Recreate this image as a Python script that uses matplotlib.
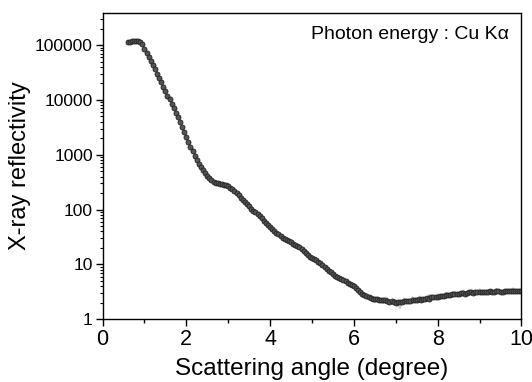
import matplotlib
matplotlib.use("Agg")
import matplotlib.pyplot as plt
import numpy as np
from matplotlib.ticker import LogLocator, MultipleLocator, NullFormatter

plt.rcParams['font.family'] = ['Liberation Sans', 'DejaVu Sans']

# scan grid (degrees), 0.05 step as measured
angle = np.round(np.arange(0.60, 10.001, 0.05), 2)

# log10 of reflectivity, one value per scan step
log_refl = [
    5.05, 5.06, 5.07, 5.07, 5.08, 5.08, 5.06, 5.01, 4.93, 4.86,   # 0.60-1.05
    4.78, 4.71, 4.63, 4.56, 4.48, 4.40, 4.32, 4.24, 4.16, 4.08,   # 1.10-1.55
    4.01, 3.93, 3.85, 3.76, 3.68, 3.59, 3.50, 3.42, 3.33, 3.24,   # 1.60-2.05
    3.15, 3.06, 2.98, 2.91, 2.84, 2.78, 2.72, 2.66, 2.61, 2.57,   # 2.10-2.55
    2.54, 2.51, 2.49, 2.48, 2.47, 2.46, 2.45, 2.44, 2.43, 2.40,   # 2.60-3.05
    2.37, 2.34, 2.30, 2.26, 2.22, 2.18, 2.14, 2.10, 2.06, 2.02,   # 3.10-3.55
    1.98, 1.95, 1.92, 1.88, 1.84, 1.80, 1.76, 1.72, 1.68, 1.64,   # 3.60-4.05
    1.61, 1.58, 1.55, 1.52, 1.49, 1.47, 1.45, 1.43, 1.41, 1.38,   # 4.10-4.55
    1.36, 1.34, 1.31, 1.28, 1.25, 1.21, 1.17, 1.14, 1.12, 1.10,   # 4.60-5.05
    1.08, 1.05, 1.02, 0.99, 0.95, 0.92, 0.89, 0.86, 0.82, 0.79,   # 5.10-5.55
    0.77, 0.75, 0.73, 0.71, 0.69, 0.67, 0.65, 0.63, 0.60, 0.57,   # 5.60-6.05
    0.53, 0.50, 0.47, 0.44, 0.42, 0.40, 0.39, 0.38, 0.37, 0.38,   # 6.10-6.55
    0.36, 0.35, 0.35, 0.36, 0.34, 0.32, 0.33, 0.31, 0.30, 0.31,   # 6.60-7.05
    0.32, 0.31, 0.33, 0.34, 0.33, 0.34, 0.36, 0.35, 0.36, 0.37,   # 7.10-7.55
    0.36, 0.37, 0.38, 0.39, 0.38, 0.40, 0.40, 0.41, 0.41, 0.42,   # 7.60-8.05
    0.43, 0.42, 0.44, 0.45, 0.44, 0.46, 0.46, 0.47, 0.47, 0.48,   # 8.10-8.55
    0.48, 0.47, 0.48, 0.49, 0.49, 0.48, 0.50, 0.50, 0.50, 0.49,   # 8.60-9.05
    0.50, 0.50, 0.50, 0.51, 0.50, 0.49, 0.51, 0.51, 0.50, 0.50,   # 9.10-9.55
    0.51, 0.52, 0.51, 0.51, 0.52, 0.51, 0.52, 0.52, 0.52,         # 9.60-10.00
]

# raw (unsmoothed) scan at high angle, light grey spikes
raw_angle = [5.8, 5.9, 6.0, 6.1, 6.2, 6.3, 6.4, 6.5, 6.6, 6.7, 6.8, 6.9, 7.0,
             7.1, 7.2, 7.3, 7.4, 7.5, 7.6, 7.7, 7.8, 7.9, 8.0, 8.1, 8.2, 8.3,
             8.4, 8.5, 8.6, 8.7, 8.8, 8.9, 9.0, 9.1, 9.2, 9.3, 9.4, 9.5, 9.6,
             9.7, 9.8, 9.9, 10.0]
raw_log = [0.72, 0.62, 0.63, 0.50, 0.51, 0.38, 0.44, 0.31, 0.40, 0.29, 0.39,
           0.27, 0.36, 0.20, 0.38, 0.30, 0.41, 0.32, 0.42, 0.33, 0.45, 0.36,
           0.46, 0.40, 0.49, 0.42, 0.51, 0.44, 0.53, 0.45, 0.53, 0.47, 0.55,
           0.46, 0.54, 0.47, 0.56, 0.47, 0.55, 0.48, 0.57, 0.49, 0.55]

refl = 10 ** np.array(log_refl)
raw_refl = 10 ** np.array(raw_log)

fig = plt.figure(figsize=(5.32, 3.82), dpi=100)
ax = fig.add_axes([0.1927, 0.164, 0.7875, 0.803])

ax.plot(raw_angle, raw_refl, color='#c4c4c4', lw=1.1, zorder=1)
ax.plot(angle, refl, 'o', ms=3.6, mfc='#555555', mec='#222222', mew=0.6, zorder=2)

ax.set_yscale('log')
ax.set_xlim(0, 10)
ax.set_ylim(1, 3.9e5)

ax.set_xticks([0, 2, 4, 6, 8, 10])
ax.xaxis.set_minor_locator(MultipleLocator(1))
ax.set_yticks([1, 10, 100, 1000, 10000, 100000])
ax.set_yticklabels(['1', '10', '100', '1000', '10000', '100000'])
ax.yaxis.set_minor_locator(LogLocator(base=10, subs=np.arange(2, 10), numticks=20))
ax.yaxis.set_minor_formatter(NullFormatter())

ax.tick_params(axis='x', which='major', direction='out', length=5, width=1, labelsize=15.5, pad=2)
ax.tick_params(axis='x', which='minor', direction='out', length=3, width=1)
ax.tick_params(axis='y', which='major', direction='out', length=5, width=1, labelsize=12.5, pad=2)
ax.tick_params(axis='y', which='minor', direction='out', length=2.5, width=0.8)
for s in ax.spines.values():
    s.set_linewidth(1.0)

ax.set_xlabel('Scattering angle (degree)', fontsize=17.5, labelpad=6)
ax.set_ylabel('X-ray reflectivity', fontsize=17, labelpad=3)

ax.text(0.97, 0.955, 'Photon energy : Cu K\u03b1', transform=ax.transAxes,
        ha='right', va='top', fontsize=14)

fig.savefig('out.png', dpi=100)
